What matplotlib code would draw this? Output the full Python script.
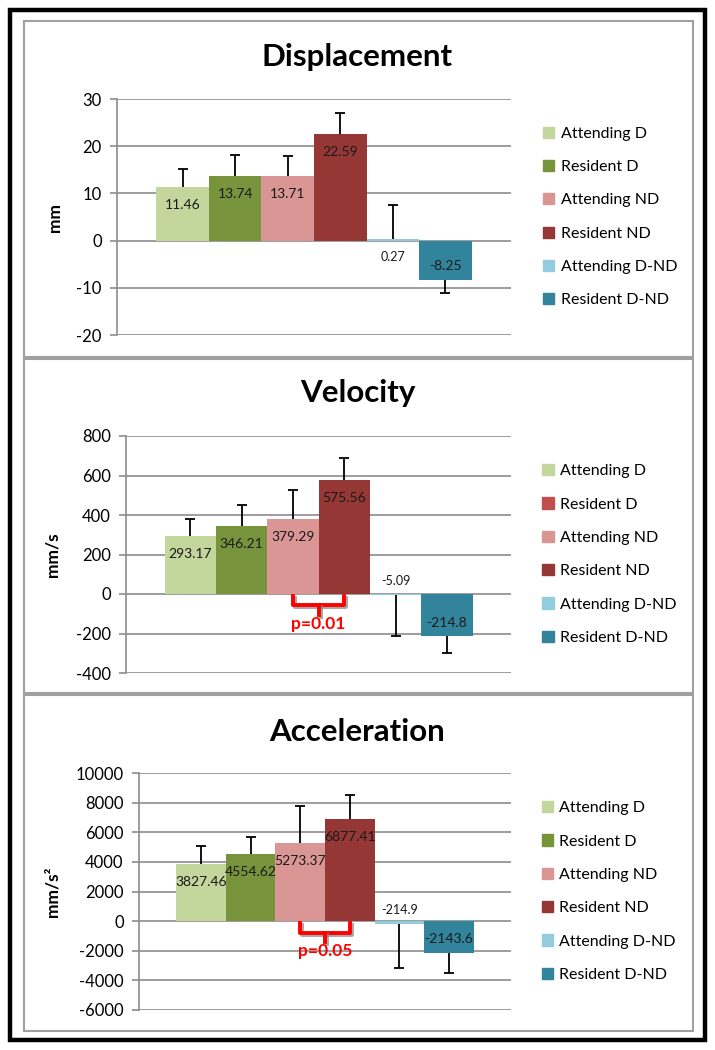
import matplotlib.pyplot as plt
import matplotlib.patheffects as pe
from matplotlib.patches import Rectangle, Patch
import numpy as np

plt.rcParams['font.family'] = ['Lato', 'DejaVu Sans']
plt.rcParams['axes.unicode_minus'] = False

groups = ["Attending D", "Resident D", "Attending ND", "Resident ND",
          "Attending D-ND", "Resident D-ND"]
colors = ["#C3D69B", "#77933C", "#D99694", "#953735", "#93CDDD", "#31849B"]

disp_vals = [11.46, 13.74, 13.71, 22.59, 0.27, -8.25]
disp_err = [3.74, 4.46, 4.2, 4.4, 7.2, 2.95]

vel_vals = [293.17, 346.21, 379.29, 575.56, -5.09, -214.8]
vel_err = [87, 105, 148, 111, 206, 85]

acc_vals = [3827.46, 4554.62, 5273.37, 6877.41, -214.9, -2143.6]
acc_err = [1243, 1125, 2497, 1638, 2955, 1381]

# velocity chart legend shows a red swatch for "Resident D"
vel_legend_colors = ["#C3D69B", "#C0504D", "#D99694", "#953735", "#93CDDD", "#31849B"]

W, H = 715, 1050
fig = plt.figure(figsize=(W / 100, H / 100), dpi=100)

def fx(px):
    return px / W

def fy(py):
    return 1 - py / H

grid_col = "#8C8C8C"


def make_chart(left, top, bottom, vals, errs, ylim, step, ylabel, ylab_x,
               title, title_y, leg_colors, p_text=None):
    ax = fig.add_axes([fx(left), fy(bottom), fx(511) - fx(left), fy(top) - fy(bottom)])
    w = 0.8 / len(vals)
    xs = (np.arange(len(vals)) - 2.5) * w
    ax.bar(xs, vals, width=w, color=colors, zorder=2)
    # one-sided error bars, cap only at the outer end
    ends = [v + e if v >= 0 else v - e for v, e in zip(vals, errs)]
    ax.vlines(xs, vals, ends, color='black', linewidth=1.3, zorder=3)
    ax.plot(xs, ends, linestyle='none', marker='_', markersize=7.5,
            markeredgewidth=1.3, color='black', zorder=3)
    for x, v in zip(xs, vals):
        sz = 9 if abs(v) < 0.02 * (ylim[1] - ylim[0]) else 10
        off = -13 if v > 0 else 10
        ax.annotate(f"{v:g}", (x, v), xytext=(0, off), textcoords='offset points',
                    ha='center', va='center', fontsize=sz, color='#1a1a1a', zorder=4)
    ax.set_xlim(-0.5, 0.5)
    ax.set_ylim(*ylim)
    ax.set_yticks(np.arange(ylim[0], ylim[1] + step / 2, step))
    ax.set_xticks([])
    ax.grid(axis='y', color=grid_col, linewidth=1.2, zorder=0)
    ax.set_axisbelow(True)
    for s in ['top', 'right', 'bottom']:
        ax.spines[s].set_visible(False)
    ax.spines['left'].set_color(grid_col)
    ax.spines['left'].set_linewidth(1.2)
    ax.tick_params(axis='y', colors=grid_col, labelcolor='black', labelsize=12,
                   length=5, width=1.2, pad=6)
    ax.set_ylabel(ylabel, fontsize=12.5, fontweight='bold')
    ax.yaxis.set_label_coords(ylab_x, 0.5)

    handles = [Patch(color=c, label=g) for c, g in zip(leg_colors, groups)]
    ax.legend(handles=handles, loc='center left', bbox_to_anchor=(1.065, 0.5),
              frameon=False, fontsize=11.5, handlelength=0.7, handleheight=0.7,
              handletextpad=0.4, labelspacing=1.2, borderaxespad=0)

    fig.text(0.5, fy(title_y), title, ha='center', va='center',
             fontsize=22.5, fontweight='bold')

    if p_text:
        zero = (0 - ylim[0]) / (ylim[1] - ylim[0])
        tr = ax.get_xaxis_transform()
        x1, x2 = xs[2], xs[3]
        xm = (x1 + x2) / 2
        ytop, ymid, ytip = zero - 0.008, zero - 0.048, zero - 0.088
        shadow = [pe.SimpleLineShadow(offset=(1.5, -1.5), shadow_color='gray', alpha=0.7),
                  pe.Normal()]
        ax.plot([x1, x1, x2, x2], [ytop, ymid, ymid, ytop], color='#FF0000', lw=2.8,
                transform=tr, solid_joinstyle='round', zorder=5, path_effects=shadow)
        ax.plot([xm, xm], [ymid, ytip], color='#FF0000', lw=2.8, transform=tr, zorder=5,
                path_effects=shadow)
        ax.text(xm, zero - 0.125, p_text, transform=tr, ha='center', va='center',
                color='#FF0000', fontsize=12.5, fontweight='bold', zorder=5)
    return ax


make_chart(117, 99, 335, disp_vals, disp_err, (-20, 30), 10, "mm", -0.137,
           "Displacement", 57, colors)
make_chart(126, 436, 673, vel_vals, vel_err, (-400, 800), 200, "mm/s", -0.171,
           "Velocity", 393, vel_legend_colors, p_text="p=0.01")
make_chart(139, 773, 1010, acc_vals, acc_err, (-6000, 10000), 2000, "mm/s²", -0.212,
           "Acceleration", 732, colors, p_text="p=0.05")

# panel frames
for top, bottom in [(21, 357), (359, 693), (695, 1031)]:
    fig.add_artist(Rectangle((fx(24), fy(bottom)), fx(693) - fx(24), fy(top) - fy(bottom),
                             transform=fig.transFigure, fill=False,
                             edgecolor='#A0A0A0', linewidth=1.5))
fig.add_artist(Rectangle((fx(10), fy(1040)), fx(705) - fx(10), fy(10) - fy(1040),
                         transform=fig.transFigure, fill=False,
                         edgecolor='black', linewidth=3.2))

fig.savefig("out.png", dpi=100, facecolor='white')
